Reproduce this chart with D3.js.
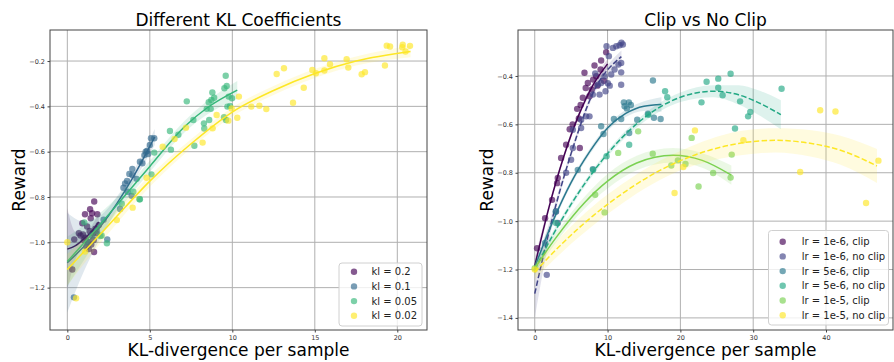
<!DOCTYPE html>
<html>
<head>
<meta charset="utf-8">
<script src="https://cdn.jsdelivr.net/npm/d3@7"></script>
<style>
  body { margin: 0; background: #fff; }
  svg { display: block; font-family: 'DejaVu Sans', sans-serif; }
</style>
</head>
<body>
<svg id="chart" width="894" height="362"></svg>
<script>
// ---- left panel: different KL coefficients ----
const klLabels = ['kl = 0.2', 'kl = 0.1', 'kl = 0.05', 'kl = 0.02'];
const klColors = ['#440154', '#31688e', '#35b779', '#fde725'];

const kl02X = [1.63, 1.38, 1.07, 1.5, 1.82, 0.91, 1.42, 0.42, 0.3, 1.62, 1.2, 1.35, 1.55, 0.95, 1.1, 1.7, 1.25, 1.45, 0.8, 1.0, 1.9, 1.15, 1.6, 0.7, 1.3, 1.75];
const kl02Y = [-0.82, -0.854, -0.876, -0.872, -0.876, -0.916, -0.894, -0.987, -1.12, -1.043, -0.93, -0.95, -0.96, -0.965, -0.98, -0.94, -1.0, -1.01, -0.97, -0.99, -0.925, -1.02, -0.99, -0.96, -1.03, -0.96];
const kl01X = [5.27, 5.07, 5.0, 4.83, 4.67, 4.9, 4.4, 4.55, 3.94, 3.76, 3.94, 3.62, 3.4, 3.66, 3.2, 3.9, 2.42, 0.4, 1.5, 1.8, 2.2, 4.2, 4.75, 3.5, 1.2];
const kl01Y = [-0.541, -0.541, -0.57, -0.597, -0.615, -0.61, -0.644, -0.651, -0.676, -0.698, -0.703, -0.729, -0.759, -0.777, -0.853, -0.795, -0.987, -1.243, -0.97, -0.95, -0.9, -0.72, -0.6, -0.74, -1.0];
const kl005X = [9.6, 9.66, 9.52, 9.78, 9.7, 9.86, 9.98, 9.5, 9.62, 8.79, 8.9, 8.57, 8.73, 8.45, 8.69, 7.24, 8.6, 7.64, 8.28, 8.3, 6.73, 6.22, 7.7, 6.28, 5.27, 5.1, 4.4, 4.0, 4.37, 2.0, 2.4, 1.03, 2.08, 3.3];
const kl005Y = [-0.265, -0.31, -0.32, -0.357, -0.401, -0.398, -0.364, -0.448, -0.46, -0.339, -0.362, -0.382, -0.372, -0.411, -0.411, -0.378, -0.46, -0.46, -0.475, -0.498, -0.525, -0.509, -0.574, -0.591, -0.604, -0.7, -0.81, -0.777, -0.81, -0.972, -1.004, -0.912, -0.97, -0.83];
const kl002X = [19.36, 19.56, 20.33, 20.3, 20.77, 20.5, 19.25, 18.04, 17.84, 17.03, 16.93, 15.92, 15.58, 15.58, 14.85, 15.07, 13.13, 12.69, 14.33, 13.68, 12.06, 11.64, 11.15, 10.4, 9.96, 9.76, 9.05, 8.81, 8.2, 7.19, 6.5, 5.78, 4.8, 3.96, 3.0, 1.07, 0.53, 0.0, 10.3];
const kl002Y = [-0.132, -0.136, -0.128, -0.139, -0.133, -0.158, -0.22, -0.249, -0.258, -0.229, -0.192, -0.214, -0.188, -0.242, -0.239, -0.254, -0.232, -0.257, -0.318, -0.384, -0.412, -0.397, -0.401, -0.357, -0.409, -0.463, -0.438, -0.497, -0.56, -0.494, -0.544, -0.578, -0.715, -0.847, -0.902, -1.041, -1.247, -1.0, -0.45];

// regression curves and their confidence half-widths
const kl02FitX = [0, 0.5, 1, 1.5, 1.9];
const kl02FitY = [-1.03, -1.015, -0.985, -0.95, -0.91];
const kl02Band = [0.18, 0.06, 0.025, 0.025, 0.04];
const kl01FitX = [0, 1, 2, 3, 4, 5.3];
const kl01FitY = [-1.09, -1.019, -0.932, -0.829, -0.711, -0.535];
const kl01Band = [0.22, 0.11, 0.05, 0.03, 0.025, 0.035];
const kl005FitX = [0, 2, 3.3, 5, 7.1, 8.5, 10.3];
const kl005FitY = [-1.085, -0.92, -0.81, -0.665, -0.49, -0.405, -0.328];
const kl005Band = [0.11, 0.05, 0.03, 0.025, 0.025, 0.03, 0.04];
const kl002FitX = [0, 2.5, 5, 7.5, 10, 12.5, 15, 17.5, 20.8];
const kl002FitY = [-1.12, -0.925, -0.73, -0.565, -0.425, -0.33, -0.255, -0.2, -0.158];
const kl002Band = [0.07, 0.035, 0.025, 0.02, 0.02, 0.02, 0.02, 0.02, 0.025];

const klXTicks = [0, 5, 10, 15, 20];
const klYTicks = [-1.2, -1.0, -0.8, -0.6, -0.4, -0.2];

// ---- right panel: clip vs no clip ----
const clipLabels = ['lr = 1e-6, clip', 'lr = 1e-6, no clip', 'lr = 5e-6, clip', 'lr = 5e-6, no clip', 'lr = 1e-5, clip', 'lr = 1e-5, no clip'];
const clipColors = ['#440154', '#414487', '#2a788e', '#22a884', '#7ad151', '#fde725'];

const lr1e6ClipX = [0.32, 1.42, 2.38, 3.07, 3.16, 3.62, 4.31, 5.82, 6.05, 6.6, 6.83, 7.84, 8.21, 9.12, 9.81, 8.02, 8.44, 7.52, 7.29, 9.04, 5.2, 4.8, 6.3, 7.0, 8.6, 9.5, 6.19];
const lr1e6ClipY = [-1.112, -0.988, -0.912, -0.843, -0.822, -0.739, -0.684, -0.536, -0.576, -0.49, -0.387, -0.456, -0.357, -0.336, -0.302, -0.415, -0.401, -0.484, -0.429, -0.373, -0.6, -0.62, -0.52, -0.45, -0.44, -0.42, -0.698];
const lr1e6NoClipX = [12.1, 11.65, 11.2, 10.73, 10.18, 11.87, 11.5, 11.87, 10.96, 10.5, 9.59, 10.04, 11.87, 9.12, 8.67, 9.72, 8.9, 7.98, 7.06, 7.52, 6.37, 6.37, 5.23, 5.23, 4.99, 4.31, 2.93, 3.16, 1.65, 9.86, 11.9, 10.3, 8.3];
const lr1e6NoClipY = [-0.27, -0.273, -0.277, -0.284, -0.318, -0.346, -0.353, -0.385, -0.373, -0.394, -0.401, -0.43, -0.436, -0.429, -0.436, -0.463, -0.477, -0.477, -0.567, -0.567, -0.581, -0.615, -0.622, -0.698, -0.746, -0.8, -0.96, -1.008, -1.222, -0.277, -0.263, -0.44, -0.39];
const lr5e6ClipX = [12.24, 12.93, 12.34, 12.65, 10.87, 11.87, 14.07, 15.54, 16.37, 17.29, 16.23, 9.12, 9.44, 5.91, 7.98, 12.97, 2.89, 13.2, 1.42];
const lr5e6ClipY = [-0.509, -0.509, -0.525, -0.534, -0.578, -0.578, -0.581, -0.556, -0.573, -0.578, -0.419, -0.608, -0.64, -0.788, -0.785, -0.636, -0.96, -0.52, -1.09];
const lr5e6NoClipX = [23.6, 25.2, 26.9, 25.2, 25.8, 22.9, 28.2, 29.6, 29.3, 33.9, 27.5, 17.9, 18.2, 15.6, 12.97, 9.86, 8.02, 2.93];
const lr5e6NoClipY = [-0.424, -0.411, -0.391, -0.449, -0.48, -0.509, -0.505, -0.549, -0.567, -0.453, -0.617, -0.463, -0.488, -0.56, -0.684, -0.732, -0.788, -1.008];
const lr1e5ClipX = [8.3, 9.59, 18.75, 19.66, 20.7, 22.5, 24.5, 26.9, 16.2, 14.2, 11.46, 27.05, 21.55, 0.0];
const lr1e5ClipY = [-0.891, -0.964, -0.77, -0.749, -0.764, -0.857, -0.801, -0.82, -0.721, -0.629, -0.718, -0.725, -0.656, -1.195];
const lr1e5NoClipX = [22.0, 20.4, 28.65, 39.2, 41.3, 36.45, 47.2, 19.2, 45.5, 0.0];
const lr1e5NoClipY = [-0.625, -0.776, -0.666, -0.542, -0.547, -0.797, -0.75, -0.884, -0.925, -1.2];

const lr1e6ClipFitX = [0, 2, 4, 6, 8, 10];
const lr1e6ClipFitY = [-1.185, -0.938, -0.732, -0.565, -0.438, -0.35];
const lr1e6ClipBand = [0.03, 0.015, 0.012, 0.012, 0.015, 0.02];
const lr1e6NoClipFitX = [0, 2.2, 5, 8, 11.9];
const lr1e6NoClipFitY = [-1.3, -1.015, -0.72, -0.47, -0.32];
const lr1e6NoClipBand = [0.1, 0.03, 0.015, 0.015, 0.025];
const lr5e6ClipFitX = [0, 2.5, 5, 7.5, 10, 12.5, 15, 17.4];
const lr5e6ClipFitY = [-1.19, -1.0, -0.84, -0.715, -0.615, -0.555, -0.525, -0.518];
const lr5e6ClipBand = [0.025, 0.015, 0.012, 0.012, 0.012, 0.015, 0.02, 0.03];
const lr5e6NoClipFitX = [0, 2.5, 5, 7.5, 10, 14, 17, 20, 24.5, 28, 30.5, 33.8];
const lr5e6NoClipFitY = [-1.2, -1.057, -0.93, -0.818, -0.721, -0.598, -0.532, -0.488, -0.463, -0.478, -0.507, -0.56];
const lr5e6NoClipBand = [0.025, 0.015, 0.012, 0.012, 0.012, 0.015, 0.018, 0.02, 0.025, 0.04, 0.05, 0.06];
const lr1e5ClipFitX = [0, 3, 6.8, 10, 14, 19, 23, 27];
const lr1e5ClipFitY = [-1.195, -1.065, -0.925, -0.835, -0.76, -0.728, -0.749, -0.81];
const lr1e5ClipBand = [0.02, 0.02, 0.025, 0.03, 0.03, 0.03, 0.03, 0.04];
const lr1e5NoClipFitX = [0, 4, 8, 12, 16, 20, 24, 28, 33, 38, 42, 47];
const lr1e5NoClipFitY = [-1.21, -1.086, -0.978, -0.887, -0.81, -0.75, -0.707, -0.679, -0.666, -0.679, -0.707, -0.772];
const lr1e5NoClipBand = [0.03, 0.035, 0.04, 0.04, 0.04, 0.04, 0.045, 0.05, 0.05, 0.055, 0.06, 0.07];

const clipXTicks = [0, 10, 20, 30, 40];
const clipYTicks = [-1.4, -1.2, -1.0, -0.8, -0.6, -0.4];

const svg = d3.select('#chart');
const zip = (xs, ys) => xs.map((x, i) => [x, ys[i]]);

/**
 * Draws one regplot style panel: scatter, quadratic fit and its band per series
 */
const drawPanel = (cfg) => {
  const { left, right, top, bottom } = cfg.box;
  const x = d3.scaleLinear().domain(cfg.xDomain).range([left, right]);
  const y = d3.scaleLinear().domain(cfg.yDomain).range([bottom, top]);
  const g = svg.append('g');

  // grid
  g.selectAll('.vgrid').data(cfg.xTicks).join('line')
    .attr('x1', (d) => x(d)).attr('x2', (d) => x(d))
    .attr('y1', top).attr('y2', bottom)
    .attr('stroke', '#b0b0b0').attr('stroke-width', 1);
  g.selectAll('.hgrid').data(cfg.yTicks).join('line')
    .attr('x1', left).attr('x2', right)
    .attr('y1', (d) => y(d)).attr('y2', (d) => y(d))
    .attr('stroke', '#b0b0b0').attr('stroke-width', 1);

  const plot = g.append('g');
  cfg.series.forEach((s) => {
    // scatter
    plot.append('g').selectAll('circle').data(zip(s.xs, s.ys)).join('circle')
      .attr('cx', (d) => x(d[0])).attr('cy', (d) => y(d[1]))
      .attr('r', 3.2)
      .attr('fill', s.color).attr('fill-opacity', 0.65);

    const fit = s.fitX.map((fx, i) => ({ x: fx, y: s.fitY[i], h: s.band[i] }));
    // confidence band
    plot.append('path').datum(fit)
      .attr('d', d3.area().curve(d3.curveMonotoneX)
        .x((d) => x(d.x)).y0((d) => y(d.y - d.h)).y1((d) => y(d.y + d.h)))
      .attr('fill', s.color).attr('fill-opacity', 0.15);
    // fitted line
    plot.append('path').datum(fit)
      .attr('d', d3.line().curve(d3.curveMonotoneX).x((d) => x(d.x)).y((d) => y(d.y)))
      .attr('fill', 'none').attr('stroke', s.color).attr('stroke-width', 1.5)
      .attr('stroke-dasharray', s.dashed ? '5.5,2.4' : null);
  });

  // spines
  g.append('rect')
    .attr('x', left).attr('y', top)
    .attr('width', right - left).attr('height', bottom - top)
    .attr('fill', 'none').attr('stroke', '#444').attr('stroke-width', 1);

  // axes
  const xAxis = g.append('g')
    .attr('transform', `translate(0, ${bottom})`)
    .call(d3.axisBottom(x).tickValues(cfg.xTicks).tickFormat(d3.format('d')).tickSize(2.5).tickPadding(2.5));
  const yAxis = g.append('g')
    .attr('transform', `translate(${left}, 0)`)
    .call(d3.axisLeft(y).tickValues(cfg.yTicks).tickFormat(d3.format('.1f')).tickSize(2.5).tickPadding(2.5));
  [xAxis, yAxis].forEach((a) => {
    a.select('.domain').remove();
    a.selectAll('.tick line').attr('stroke', '#444');
    a.selectAll('.tick text').attr('fill', '#333').style('font-size', '6.5px')
      .style('font-family', "'DejaVu Sans', sans-serif");
  });

  // title and axis labels
  g.append('text')
    .attr('x', (left + right) / 2).attr('y', 26)
    .attr('text-anchor', 'middle').style('font-size', '17px')
    .text(cfg.title);
  g.append('text')
    .attr('x', (left + right) / 2).attr('y', 356)
    .attr('text-anchor', 'middle').style('font-size', '17px')
    .text('KL-divergence per sample');
  g.append('text')
    .attr('transform', `translate(${left - 25}, ${(top + bottom) / 2}) rotate(-90)`)
    .attr('text-anchor', 'middle').style('font-size', '17px')
    .text('Reward');

  // legend
  const lg = cfg.legend;
  g.append('rect')
    .attr('x', lg.x).attr('y', lg.y).attr('width', lg.w).attr('height', lg.h)
    .attr('rx', 3).attr('fill', '#fff').attr('fill-opacity', 0.8)
    .attr('stroke', '#d0d0d0').attr('stroke-width', 1);
  const items = g.append('g').selectAll('g').data(cfg.series).join('g')
    .attr('transform', (d, i) => `translate(${lg.x}, ${lg.firstY + i * lg.step})`);
  items.append('circle')
    .attr('cx', lg.markerX).attr('cy', 0).attr('r', 3.2)
    .attr('fill', (d) => d.color).attr('fill-opacity', 0.65);
  items.append('text')
    .attr('x', lg.textX).attr('y', 0).attr('dy', '0.35em')
    .style('font-size', '10px').attr('fill', '#222')
    .text((d) => d.label);
};

drawPanel({
  box: { left: 50, right: 427, top: 30, bottom: 330 },
  xDomain: [-1.05, 21.8],
  yDomain: [-1.387, -0.063],
  xTicks: klXTicks,
  yTicks: klYTicks,
  title: 'Different KL Coefficients',
  legend: { x: 339, y: 263, w: 83, h: 63, firstY: 271.7, step: 14.7, markerX: 15, textX: 32.5 },
  series: [
    { label: klLabels[0], color: klColors[0], xs: kl02X, ys: kl02Y, fitX: kl02FitX, fitY: kl02FitY, band: kl02Band },
    { label: klLabels[1], color: klColors[1], xs: kl01X, ys: kl01Y, fitX: kl01FitX, fitY: kl01FitY, band: kl01Band },
    { label: klLabels[2], color: klColors[2], xs: kl005X, ys: kl005Y, fitX: kl005FitX, fitY: kl005FitY, band: kl005Band },
    { label: klLabels[3], color: klColors[3], xs: kl002X, ys: kl002Y, fitX: kl002FitX, fitY: kl002FitY, band: kl002Band },
  ],
});

drawPanel({
  box: { left: 518, right: 893, top: 30, bottom: 330 },
  xDomain: [-2.3, 49.2],
  yDomain: [-1.45, -0.21],
  xTicks: clipXTicks,
  yTicks: clipYTicks,
  title: 'Clip vs No Clip',
  legend: { x: 768.5, y: 230.5, w: 120, h: 94.5, firstY: 241.7, step: 14.7, markerX: 14.2, textX: 33.2 },
  series: [
    { label: clipLabels[0], color: clipColors[0], xs: lr1e6ClipX, ys: lr1e6ClipY, fitX: lr1e6ClipFitX, fitY: lr1e6ClipFitY, band: lr1e6ClipBand },
    { label: clipLabels[1], color: clipColors[1], xs: lr1e6NoClipX, ys: lr1e6NoClipY, fitX: lr1e6NoClipFitX, fitY: lr1e6NoClipFitY, band: lr1e6NoClipBand, dashed: true },
    { label: clipLabels[2], color: clipColors[2], xs: lr5e6ClipX, ys: lr5e6ClipY, fitX: lr5e6ClipFitX, fitY: lr5e6ClipFitY, band: lr5e6ClipBand },
    { label: clipLabels[3], color: clipColors[3], xs: lr5e6NoClipX, ys: lr5e6NoClipY, fitX: lr5e6NoClipFitX, fitY: lr5e6NoClipFitY, band: lr5e6NoClipBand, dashed: true },
    { label: clipLabels[4], color: clipColors[4], xs: lr1e5ClipX, ys: lr1e5ClipY, fitX: lr1e5ClipFitX, fitY: lr1e5ClipFitY, band: lr1e5ClipBand },
    { label: clipLabels[5], color: clipColors[5], xs: lr1e5NoClipX, ys: lr1e5NoClipY, fitX: lr1e5NoClipFitX, fitY: lr1e5NoClipFitY, band: lr1e5NoClipBand, dashed: true },
  ],
});
</script>
</body>
</html>
